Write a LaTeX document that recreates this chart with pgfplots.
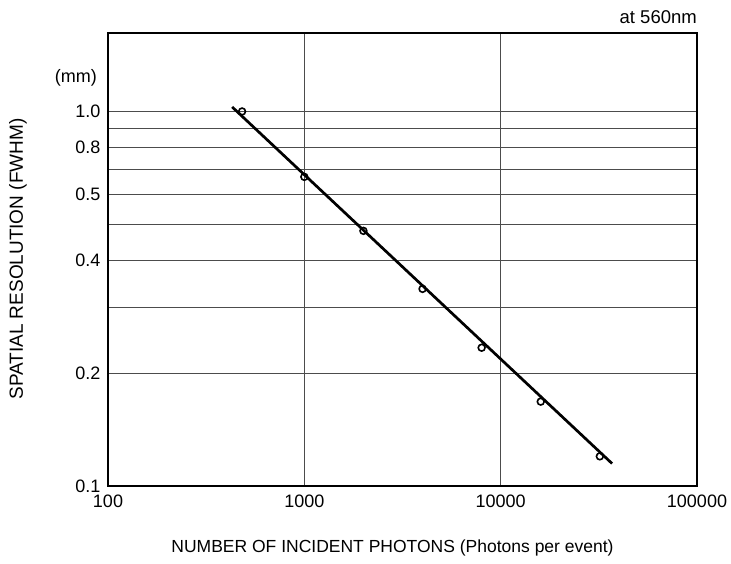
\documentclass[border=0pt]{standalone}
\usepackage{fontspec}
\setmainfont{Liberation Sans}
\usepackage{pgfplots}
\pgfplotsset{compat=1.18}
\begin{document}
\begin{tikzpicture}[x=1pt,y=1pt]
\path[use as bounding box] (-108,-77) rectangle (623,486);
\begin{axis}[
  at={(0,0)}, anchor=south west,
  scale only axis, width=589pt, height=453pt,
  xmode=log, ymode=log,
  xmin=100, xmax=100000, ymin=0.1, ymax=1.62,
  xtick={100,1000,10000,100000},
  xticklabels={100,1000,10000,100000},
  ytick={0.1,0.2,0.3,0.4,0.5,0.6,0.7,0.8,0.9,1.0},
  yticklabels={0.1,0.2,,0.4,,0.5,,0.8,,1.0},
  minor xtick={}, minor ytick={},
  major tick length=0pt, minor tick length=0pt,
  grid=major,
  major grid style={black!70, line width=0.9pt},
  axis line style={line width=1.8pt},
  tick label style={font=\fontsize{18}{20}\selectfont},
  xticklabel style={yshift=-5pt},
  yticklabel style={xshift=-4pt},
  xlabel={NUMBER OF INCIDENT PHOTONS (Photons per event)},
  ylabel={SPATIAL RESOLUTION (FWHM)},
  xlabel style={font=\fontsize{17.5}{20}\selectfont, at={(axis description cs:0.483,-0.137)}, anchor=center},
  ylabel style={font=\fontsize{19}{21}\selectfont, at={(axis description cs:-0.153,0.501)}, anchor=center},
  clip=false,
]
\addplot[black, line width=2.7pt] coordinates {(429,1.028) (36940,0.1148)};
\addplot[only marks, mark=o, mark size=3.4pt, mark options={fill=white, line width=1.6pt}, black]
  coordinates {(482,1.0) (1000,0.669) (2000,0.480) (4000,0.336) (8000,0.234) (16000,0.168) (32000,0.120)};
\node[anchor=east, inner sep=0pt, font=\fontsize{18}{20}\selectfont] at (axis description cs:-0.0187,0.90) {(mm)};
\node[anchor=east, inner sep=0pt, font=\fontsize{18.5}{20}\selectfont] at (axis description cs:1.0,1.035) {at 560nm};
\end{axis}
\end{tikzpicture}
\end{document}
